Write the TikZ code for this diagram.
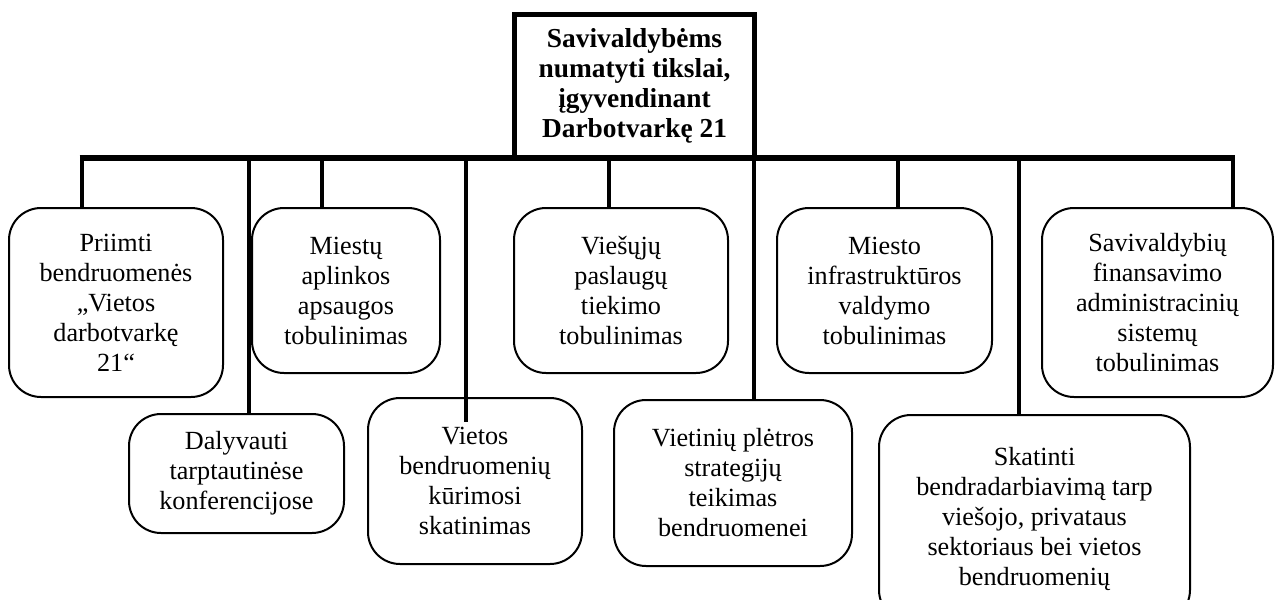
\documentclass[tikz,border=0pt]{standalone}
\usepackage{fontspec}
\setmainfont{Liberation Serif}
\begin{document}
\begin{tikzpicture}[x=0.5pt,y=-0.5pt,
  goal/.style={draw, line width=1pt, rounded corners=16pt, align=center,
    inner sep=0pt, outer sep=0pt, font=\fontsize{13.1pt}{15pt}\selectfont},
  head/.style={draw, line width=2.5pt, align=center, inner sep=0pt, outer sep=0pt,
    font=\fontsize{13.7pt}{15pt}\selectfont\bfseries,
    minimum width=120pt, minimum height=71.5pt},
  link/.style={line width=2pt},
  busline/.style={line width=2.8pt}]
\useasboundingbox (0,0) rectangle (1275,600);
\clip (0,0) rectangle (1275,600);

% root
\node[head] (root) at (634.5,86) {Savivaldybėms\\numatyti tikslai,\\įgyvendinant\\Darbotvarkę 21};

% goals, upper row
\node[goal, minimum width=107pt, minimum height=94.5pt] (n1) at (116,302.5)
  {Priimti\\bendruomenės\\„Vietos\\darbotvarkę\\21“};
\node[goal, minimum width=94pt, minimum height=82.5pt] (n2) at (346,290.5)
  {Miestų\\aplinkos\\apsaugos\\tobulinimas};
\node[goal, minimum width=107pt, minimum height=82.5pt] (n5) at (621,290.5)
  {Viešųjų\\paslaugų\\tiekimo\\tobulinimas};
\node[goal, minimum width=107.5pt, minimum height=82.5pt] (n7) at (884.5,290.5)
  {Miesto\\infrastruktūros\\valdymo\\tobulinimas};
\node[goal, minimum width=115.5pt, minimum height=94.5pt] (n9) at (1157.5,302.5)
  {Savivaldybių\\finansavimo\\administracinių\\sistemų\\tobulinimas};

% goals, lower row
\node[goal, minimum width=107.5pt, minimum height=59.5pt] (n3) at (236.5,473.5)
  {Dalyvauti\\tarptautinėse\\konferencijose};
\node[goal, minimum width=107pt, minimum height=83pt] (n4) at (475,481)
  {Vietos\\bendruomenių\\kūrimosi\\skatinimas};
\node[goal, minimum width=119pt, minimum height=83pt] (n6) at (733,483)
  {Vietinių plėtros\\strategijų\\teikimas\\bendruomenei};
\node[goal, minimum width=155.5pt, minimum height=103.5pt] (n8) at (1034.5,518.5)
  {Skatinti\\bendradarbiavimą tarp\\viešojo, privataus\\sektoriaus bei vietos\\bendruomenių};

% branch points on the bus
\coordinate (b1) at (81.5,158);
\coordinate (b2) at (249,158);
\coordinate (b3) at (322,158);
\coordinate (b4) at (465.5,158);
\coordinate (b5) at (609,158);
\coordinate (b6) at (753.5,158);
\coordinate (b7) at (897.5,158);
\coordinate (b8) at (1018.5,158);
\coordinate (b9) at (1233,158);
\coordinate (e4) at (465.5,422);

% bus
\draw[busline, shorten <=-1pt, shorten >=-1pt] (b1) -- (b9);

% drops
\draw[link] (b1) -- (b1 |- n1.north);
\draw[link] (b2) -- (b2 |- n3.north);
\draw[link] (b3) -- (b3 |- n2.north);
\draw[link] (b4) -- (e4);
\draw[link] (b5) -- (b5 |- n5.north);
\draw[link] (b6) -- (b6 |- n6.north);
\draw[link] (b7) -- (b7 |- n7.north);
\draw[link] (b8) -- (b8 |- n8.north);
\draw[link] (b9) -- (b9 |- n9.north);
\end{tikzpicture}
\end{document}
